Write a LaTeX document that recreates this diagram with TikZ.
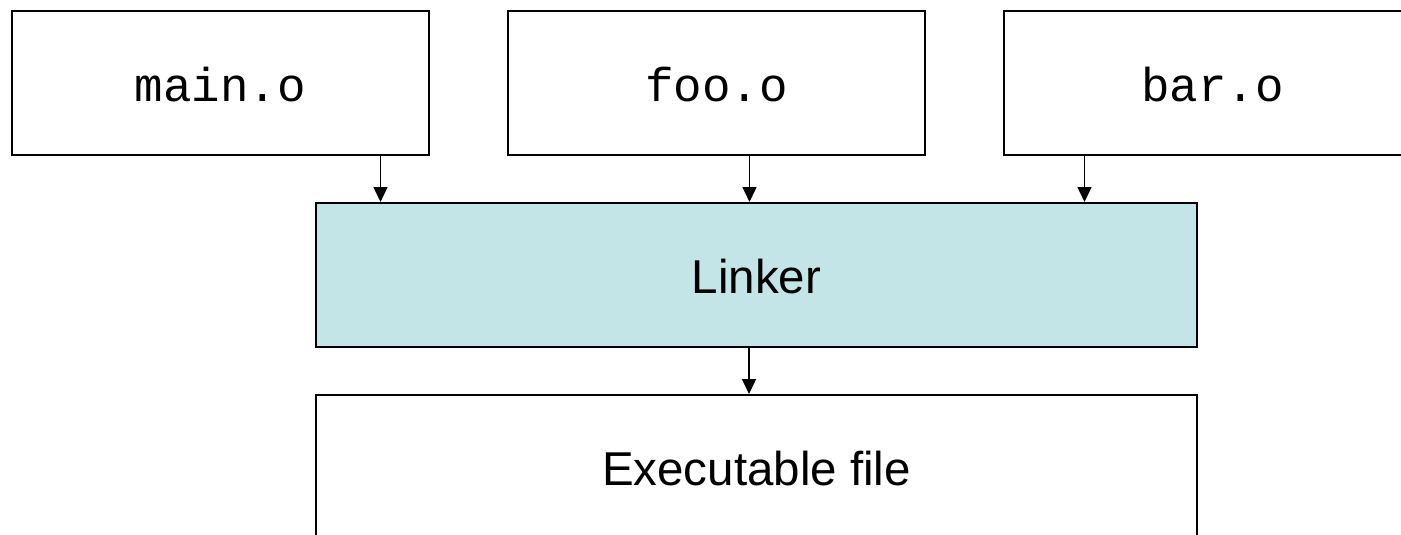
\documentclass[tikz,border=0pt]{standalone}
\usepackage{fontspec}
\setmainfont{Liberation Sans}
\newfontfamily\monofont{Liberation Mono}
\usetikzlibrary{arrows.meta}
\definecolor{linkerfill}{RGB}{196,229,232}
\tikzset{
  filebox/.style={draw=black, line width=2pt, rectangle, anchor=north west,
    inner sep=0pt, minimum width=417pt, minimum height=144pt,
    text height=36pt, text depth=0pt, font=\fontsize{47.5}{57}\selectfont},
  objfile/.style={filebox, font=\monofont\fontsize{47.5}{57}\selectfont},
  toolbox/.style={filebox, fill=linkerfill, minimum width=881pt},
  outbox/.style={filebox, minimum width=881pt},
  flow/.style={draw=black, line width=1.5pt, -{Triangle[width=14pt,length=15pt]}}
}
\begin{document}
\begin{tikzpicture}[x=1pt, y=-1pt]
  \useasboundingbox (0,0) rectangle (1401,535);
  \clip (0,0) rectangle (1401,535);

  % object files
  \node[objfile] (main) at (11,10)   {main.o};
  \node[objfile] (foo)  at (507,10)  {foo.o};
  \node[objfile] (bar)  at (1003,10) {bar.o};

  % linker and its output
  \node[toolbox] (linker) at (315,202) {Linker};
  \node[outbox]  (exe)    at (315,394) {Executable file};

  % connections
  \draw[flow] ([xshift=160pt]main.south) -- ([xshift=160pt]main.south |- linker.north);
  \draw[flow] ([xshift=33pt]foo.south)   -- ([xshift=33pt]foo.south |- linker.north);
  \draw[flow] ([xshift=-128pt]bar.south) -- ([xshift=-128pt]bar.south |- linker.north);
  \draw[flow] ([xshift=-7.5pt]linker.south) -- ([xshift=-7.5pt]linker.south |- exe.north);
\end{tikzpicture}
\end{document}
